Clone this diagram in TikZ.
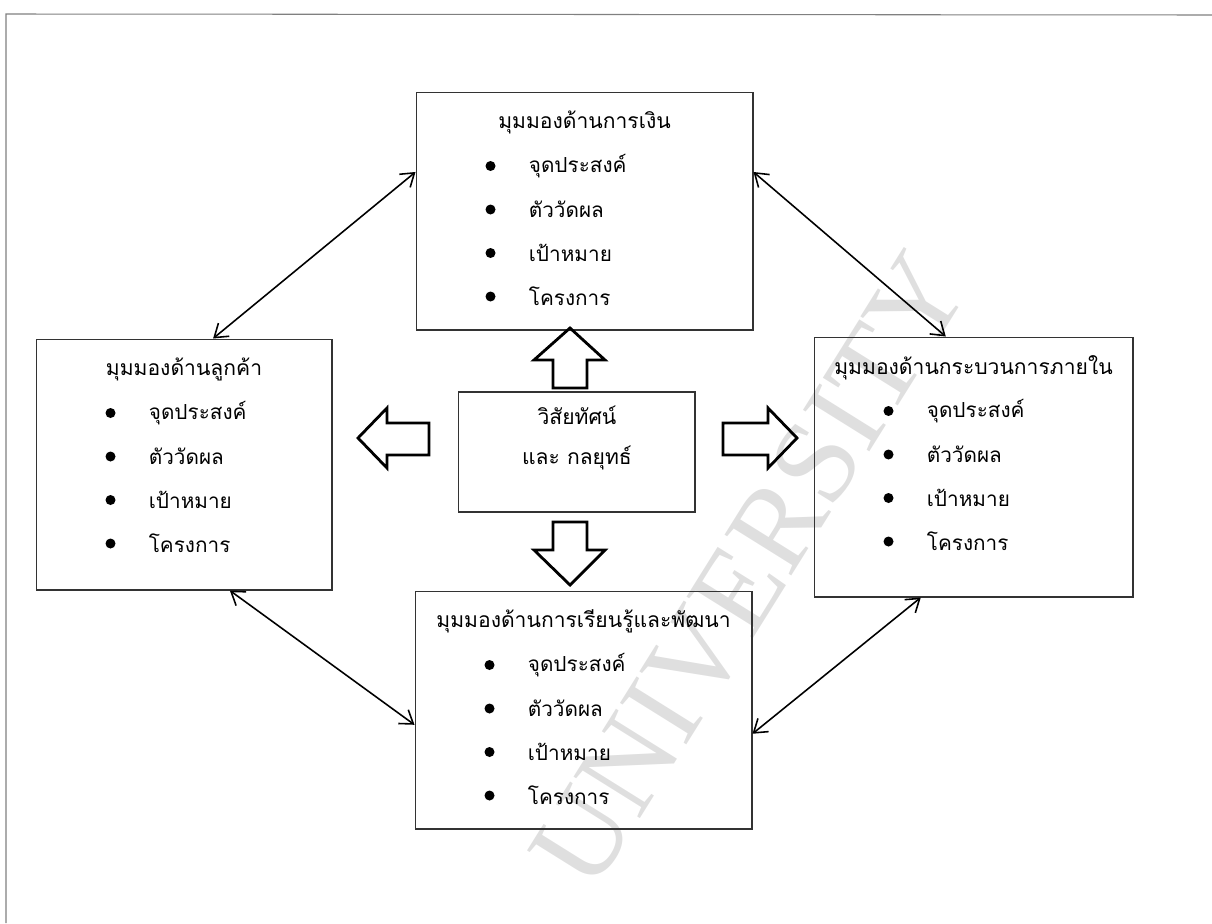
\documentclass[tikz,border=0pt]{standalone}
\usepackage{fontspec}
\newfontfamily\thai[Script=Thai]{Loma}
\newfontfamily\wmark{Liberation Serif}
\usetikzlibrary{arrows.meta}
\newcommand{\bsclist}[2]{%
  \node[head] (#1-t) at ([yshift=-0.62cm]#1.north) {#2};
  \begin{scope}[shift={(#1.north west)}]
    \foreach \lab [count=\i] in {จุดประสงค์,ตัววัดผล,เป้าหมาย,โครงการ}{
      \fill (75,{31+43.5*\i}) circle (1mm);
      \node[item] (#1-\i) at (113,{31+43.5*\i}) {\lab};
    }
  \end{scope}}

\begin{document}
\begin{tikzpicture}[x=0.02cm, y=-0.02cm,
  box/.style={draw=black!80, line width=0.6pt, inner sep=0pt},
  head/.style={font=\thai\fontsize{12}{15}\selectfont},
  item/.style={anchor=west, inner sep=0pt, font=\thai\fontsize{11.8}{15}\selectfont},
  fat/.style={line width=1.6pt, line join=miter},
  link/.style={{Straight Barb[length=2.5mm,width=3.4mm]}-{Straight Barb[length=2.5mm,width=3.4mm]}, line width=0.9pt}]
  \useasboundingbox (0,0) rectangle (1212,923);
  % watermark and page frame
  \node[text=gray!25, font=\wmark\fontsize{68}{68}\selectfont, rotate=58] (wm) at (750,570) {UNIVERSITY};
  \draw[gray, line width=0.6pt] (1212,15) -- (6,14) -- (6,923);
  % the four perspectives round the vision
  \node[box, minimum width=6.74cm, minimum height=4.76cm] (fin) at (584.5,211) {};
  \node[box, minimum width=5.92cm, minimum height=5.02cm] (cus) at (184,464.5) {};
  \node[box, minimum width=6.38cm, minimum height=5.2cm] (int) at (973.5,467) {};
  \node[box, minimum width=6.74cm, minimum height=4.76cm] (lrn) at (583.5,710) {};
  \node[box, minimum width=4.74cm, minimum height=2.4cm] (vis) at (576.5,452) {};
  \node[align=center, inner sep=0pt, font=\thai\fontsize{12}{23}\selectfont] (vis-t) at (577,438) {วิสัยทัศน์\\และ กลยุทธ์};
  \bsclist{fin}{มุมมองด้านการเงิน}
  \bsclist{cus}{มุมมองด้านลูกค้า}
  \bsclist{int}{มุมมองด้านกระบวนการภายใน}
  \bsclist{lrn}{มุมมองด้านการเรียนรู้และพัฒนา}
  % hollow block arrows out of the centre box
  \draw[fat] (553,388) -- (553,360) -- (534,360) -- (570,328) -- (605,360) -- (587,360) -- (587,388) -- cycle;
  \draw[fat] (553,522) -- (553,550) -- (534,550) -- (570,585) -- (605,550) -- (587,550) -- (587,522) -- cycle;
  \draw[fat] (429,423) -- (387,423) -- (387,408) -- (358,438) -- (387,468) -- (387,455) -- (429,455) -- cycle;
  \draw[fat] (723,423) -- (768,423) -- (768,408) -- (797,438) -- (768,468) -- (768,455) -- (723,455) -- cycle;
  % links between neighbouring perspectives
  \draw[link] (fin.167) -- (cus.77);
  \draw[link] (fin.13) -- (int.102);
  \draw[link] (cus.290) -- (lrn.185);
  \draw[link] (int.248) -- (lrn.352);
\end{tikzpicture}
\end{document}
